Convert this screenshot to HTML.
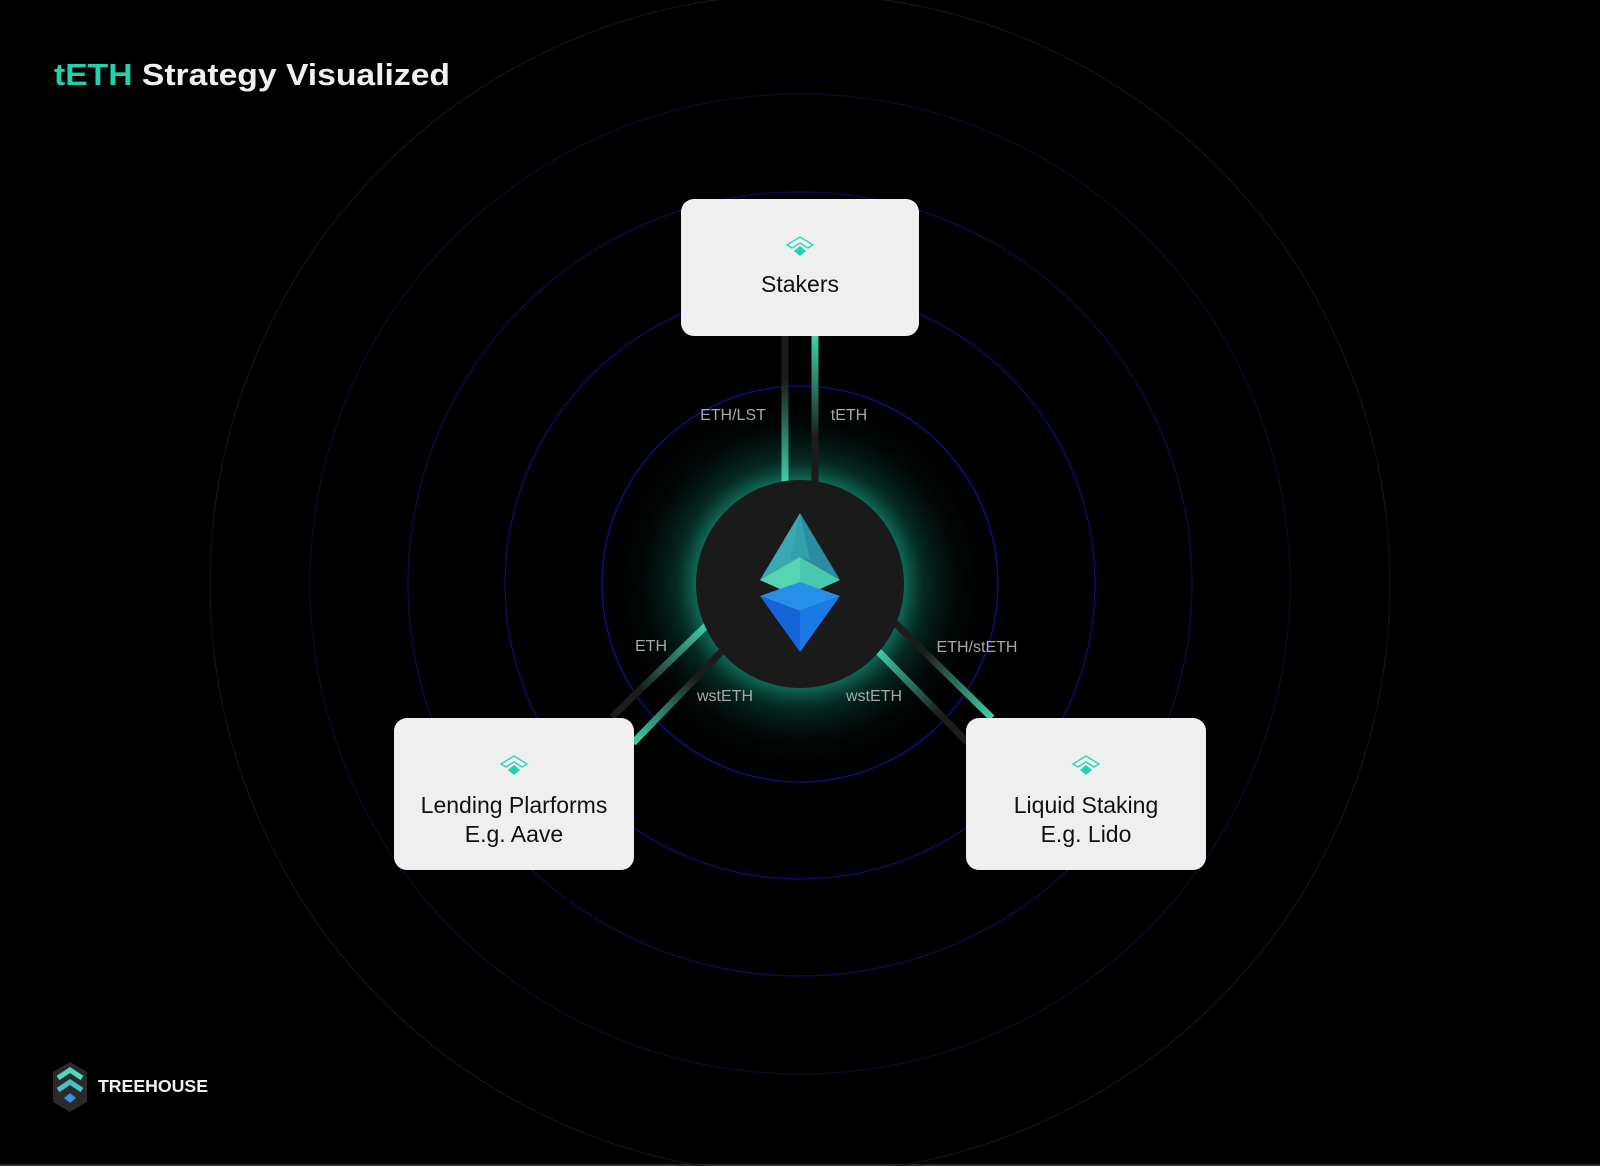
<!DOCTYPE html>
<html><head><meta charset="utf-8"><style>
html,body{margin:0;padding:0;background:#000;}
svg{display:block}
text{font-family:"Liberation Sans",sans-serif}
</style></head><body>
<svg width="1600" height="1166" viewBox="0 0 1600 1166" xmlns="http://www.w3.org/2000/svg">
<defs>
<radialGradient id="glow" cx="800" cy="584" r="200" gradientUnits="userSpaceOnUse">
<stop offset="0.5" stop-color="#1fd8ae" stop-opacity="0.55"/>
<stop offset="0.62" stop-color="#128a70" stop-opacity="0.3"/>
<stop offset="0.8" stop-color="#063a30" stop-opacity="0.12"/>
<stop offset="1" stop-color="#000" stop-opacity="0"/>
</radialGradient>
<linearGradient id="vL" x1="0" y1="336" x2="0" y2="482" gradientUnits="userSpaceOnUse"><stop offset="0.3" stop-color="#1c1c1c"/><stop offset="1" stop-color="#3fd0a8"/></linearGradient>
<linearGradient id="vR" x1="0" y1="336" x2="0" y2="482" gradientUnits="userSpaceOnUse"><stop offset="0" stop-color="#3fd0a8"/><stop offset="0.7" stop-color="#1c1c1c"/></linearGradient>
<linearGradient id="l1" x1="707" y1="625" x2="612" y2="717" gradientUnits="userSpaceOnUse"><stop offset="0" stop-color="#3fd0a8"/><stop offset="0.7" stop-color="#1c1c1c"/></linearGradient>
<linearGradient id="l2" x1="723" y1="650" x2="633" y2="743" gradientUnits="userSpaceOnUse"><stop offset="0.3" stop-color="#1c1c1c"/><stop offset="1" stop-color="#3fd0a8"/></linearGradient>
<linearGradient id="r1" x1="895" y1="623" x2="992" y2="718" gradientUnits="userSpaceOnUse"><stop offset="0.3" stop-color="#1c1c1c"/><stop offset="1" stop-color="#3fd0a8"/></linearGradient>
<linearGradient id="r2" x1="877" y1="650" x2="967" y2="742" gradientUnits="userSpaceOnUse"><stop offset="0" stop-color="#3fd0a8"/><stop offset="0.7" stop-color="#1c1c1c"/></linearGradient>
</defs>
<rect width="1600" height="1166" fill="#000"/>
<rect x="0" y="1164" width="1600" height="2" fill="#2a2a2a"/>
<circle cx="800" cy="584" r="200" fill="url(#glow)"/>
<g fill="none" stroke-width="1.3">
<circle cx="800" cy="584" r="198" stroke="#0d1290"/>
<circle cx="800" cy="584" r="295" stroke="#0b0f75"/>
<circle cx="800" cy="584" r="392" stroke="#0a0d50"/>
<circle cx="800" cy="584" r="490" stroke="#0b0d28"/>
<circle cx="800" cy="584" r="590" stroke="#121316"/>
</g>
<g stroke-width="7" stroke-linecap="butt">
<line x1="785" y1="336" x2="785" y2="485" stroke="url(#vL)"/>
<line x1="815" y1="336" x2="815" y2="485" stroke="url(#vR)"/>
<line x1="710" y1="622" x2="612" y2="717" stroke="url(#l1)"/>
<line x1="726" y1="647" x2="633" y2="743" stroke="url(#l2)"/>
<line x1="892" y1="620" x2="992" y2="718" stroke="url(#r1)"/>
<line x1="874" y1="647" x2="967" y2="742" stroke="url(#r2)"/>
</g>
<circle cx="800" cy="584" r="104" fill="#1a1a1a"/>
<polygon points="800,513 760,580 800,557" fill="#3aa9b2"/>
<polygon points="800,513 840,580 800,557" fill="#2a8ea0"/>
<polygon points="800,513 790,560 800,557 810,560" fill="#33a0ae"/>
<polygon points="760,580 800,557 840,580 800,598" fill="#4ac9ae"/>
<polygon points="760,580 800,557 800,598" fill="#55d6b0"/>
<polygon points="760,596 800,582 840,596 800,611" fill="#2590e6"/>
<polygon points="760,596 800,611 800,652" fill="#1664d8"/>
<polygon points="840,596 800,611 800,652" fill="#1b7ae6"/>
<g font-size="16" fill="#a8a8a8" text-anchor="middle">
<text x="733" y="420">ETH/LST</text>
<text x="849" y="420">tETH</text>
<text x="651" y="651">ETH</text>
<text x="725" y="701">wstETH</text>
<text x="874" y="701">wstETH</text>
<text x="977" y="652">ETH/stETH</text>
</g>
<g fill="#efefef">
<rect x="681" y="199" width="238" height="137" rx="13"/>
<rect x="394" y="718" width="240" height="152" rx="13"/>
<rect x="966" y="718" width="240" height="152" rx="13"/>
</g>
<g id="ic">
<polygon points="787,245 800,237 813,245 808,248 800,243 792,248" fill="none" stroke="#2fd6b5" stroke-width="1.4" stroke-linejoin="miter"/>
<polygon points="800,246 806,251 800,256 794,251" fill="#1fd1ad"/>
</g>
<use href="#ic" transform="translate(-286,519)"/>
<use href="#ic" transform="translate(286,519)"/>
<g font-size="23" fill="#111" text-anchor="middle">
<text x="800" y="292">Stakers</text>
<text x="514" y="813">Lending Plarforms</text>
<text x="514" y="842">E.g. Aave</text>
<text x="1086" y="813">Liquid Staking</text>
<text x="1086" y="842">E.g. Lido</text>
</g>
<text x="54" y="85" font-size="31" font-weight="600" textLength="396" lengthAdjust="spacingAndGlyphs"><tspan fill="#1fd1ad">tETH</tspan><tspan fill="#f0f0f0"> Strategy Visualized</tspan></text>
<polygon points="70,1062 87,1072 87,1102 70,1112 53,1102 53,1072" fill="#2a2a2a"/>
<polyline points="58,1078 70,1070 82,1078" fill="none" stroke="#4fd9bd" stroke-width="5"/>
<polyline points="58,1090 70,1082 82,1090" fill="none" stroke="#47c0c8" stroke-width="5"/>
<polygon points="70,1093 76,1098 70,1103 64,1098" fill="#3d8fd8"/>
<text x="98" y="1092" font-size="17.5" font-weight="bold" fill="#f0f0f0" textLength="110" lengthAdjust="spacingAndGlyphs">TREEHOUSE</text>
</svg>
</body></html>
